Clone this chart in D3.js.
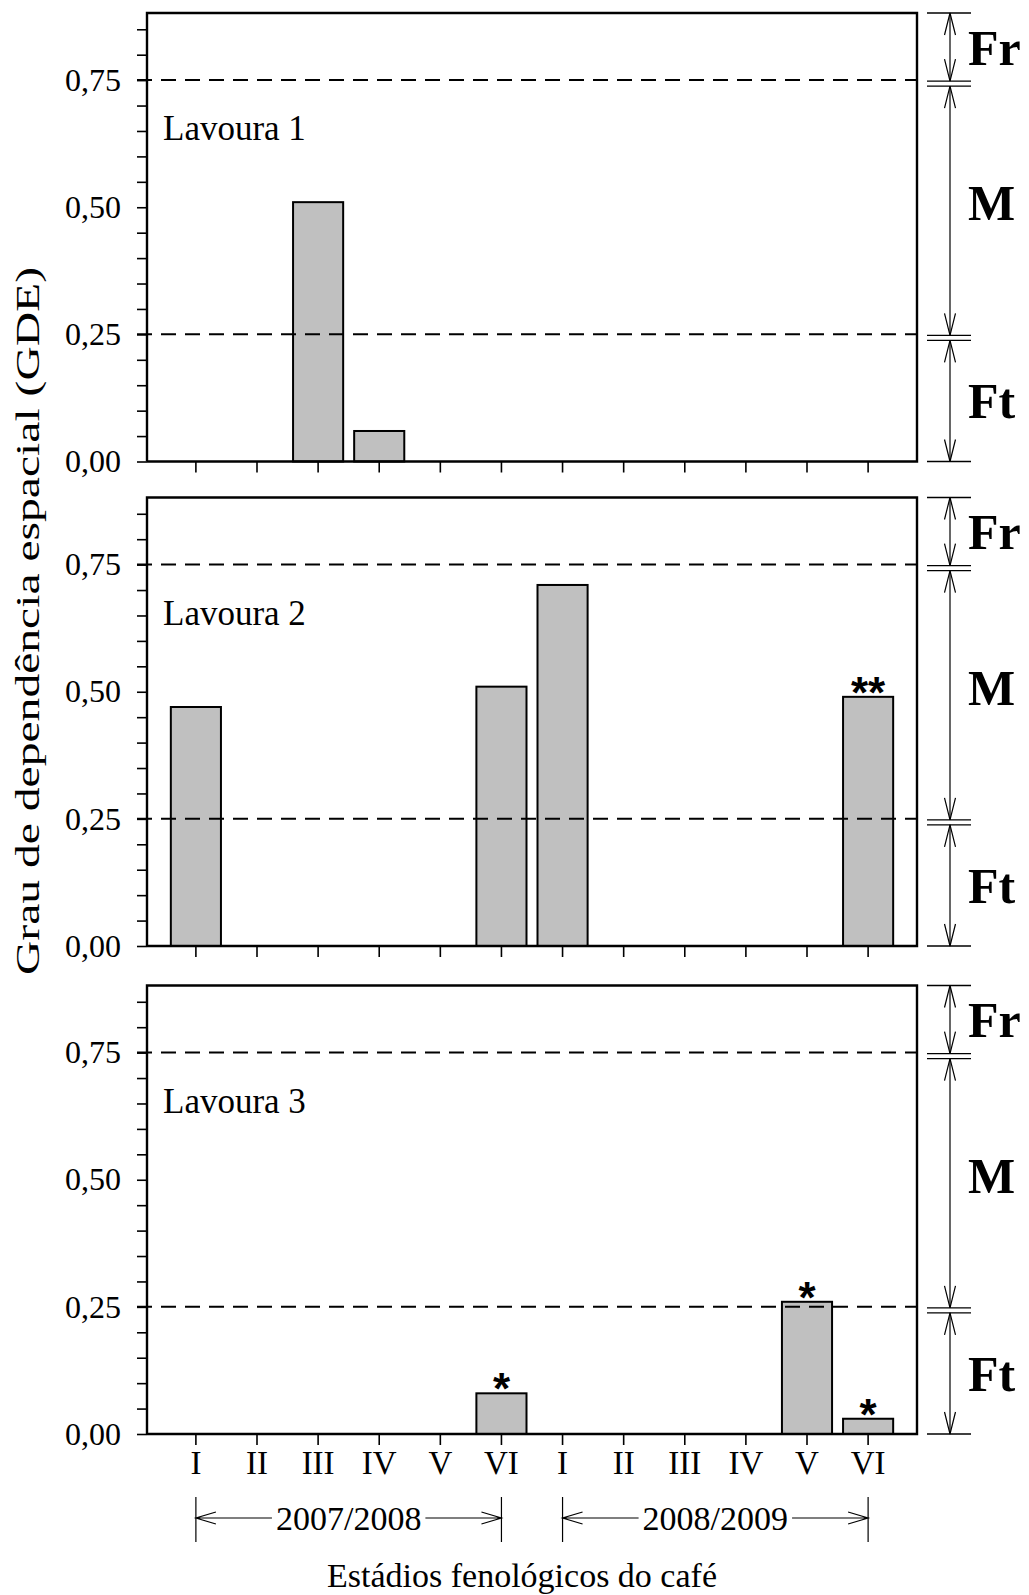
<html>
<head>
<meta charset="utf-8">
<style>
  body { margin: 0; background: white }
  svg { display: block; font-family: "Liberation Serif", "Times New Roman", serif; }
</style>
</head>
<body>
<script src="https://d3js.org/d3.v7.min.js"></script>
<script>

// estadios fenologicos (duas safras)
var categories = ["I", "II", "III", "IV", "V", "VI", "I", "II", "III", "IV", "V", "VI"];
var seasons = ["2007/2008", "2008/2009"];
var seasonSpan = [[0, 5], [6, 11]];

// GDE por lavoura
var lavoura1 = [0, 0, 0.51, 0.06, 0, 0, 0, 0, 0, 0, 0, 0];
var lavoura2 = [0.47, 0, 0, 0, 0, 0.51, 0.71, 0, 0, 0, 0, 0.49];
var lavoura3 = [0, 0, 0, 0, 0, 0.08, 0, 0, 0, 0, 0.26, 0.03];
var marks1 = ["", "", "", "", "", "", "", "", "", "", "", ""];
var marks2 = ["", "", "", "", "", "", "", "", "", "", "", "**"];
var marks3 = ["", "", "", "", "", "*", "", "", "", "", "*", "*"];
var panelNames = ["Lavoura 1", "Lavoura 2", "Lavoura 3"];

// eixo y
var yMax = 0.882;
var yLabels = [0, 0.25, 0.5, 0.75];
var yMinor = d3.range(0, 0.86, 0.05);

// classes de dependencia: forte, moderada, fraca
var zoneNames = ["Ft", "M", "Fr"];
var zoneBreaks = [0, 0.25, 0.75, yMax];

var panels = [
  { name: panelNames[0], values: lavoura1, marks: marks1 },
  { name: panelNames[1], values: lavoura2, marks: marks2 },
  { name: panelNames[2], values: lavoura3, marks: marks3 }
];

var width = 1029, height = 1595;
var left = 147, right = 917;
var panelTops = [13, 497.5, 985.5], panelH = 448.5;

var pt = d3.formatLocale({ decimal: ",", thousands: ".", grouping: [3], currency: ["", ""] });
var fmt = pt.format(".2f");

var svg = d3.select("body").append("svg")
  .attr("width", width)
  .attr("height", height);

var x = d3.scaleBand()
  .domain(d3.range(categories.length))
  .range([left, right])
  .paddingInner(0.18)
  .paddingOuter(0.39);

function cx(i) { return x(i) + x.bandwidth() / 2; }

panels.forEach(function(p, k) {
  var top = panelTops[k], bottom = top + panelH;
  var y = d3.scaleLinear().domain([0, yMax]).range([bottom, top]);
  var g = svg.append("g");
  var bars = p.values.map(function(v, i) { return { i: i, v: v }; })
    .filter(function(d) { return d.v > 0; });

  // barras
  g.selectAll("rect.bar").data(bars)
    .enter().append("rect")
      .attr("class", "bar")
      .attr("x", function(d) { return x(d.i); })
      .attr("y", function(d) { return y(d.v); })
      .attr("width", x.bandwidth())
      .attr("height", function(d) { return y(0) - y(d.v); })
      .attr("fill", "#c0c0c0")
      .attr("stroke", "black")
      .attr("stroke-width", 2);

  // asteriscos
  g.selectAll("text.mark").data(bars.filter(function(d) { return p.marks[d.i]; }))
    .enter().append("text")
      .attr("class", "mark")
      .attr("x", function(d) { return cx(d.i); })
      .attr("y", function(d) { return y(d.v) + 11; })
      .attr("text-anchor", "middle")
      .style("font-family", "'Liberation Sans', Arial, sans-serif")
      .style("font-weight", "bold")
      .style("font-size", "44px")
      .text(function(d) { return p.marks[d.i]; });

  // linhas tracejadas 0,25 e 0,75
  g.selectAll("line.lim").data([0.25, 0.75])
    .enter().append("line")
      .attr("x1", left - 10).attr("x2", right)
      .attr("y1", function(d) { return y(d); })
      .attr("y2", function(d) { return y(d); })
      .attr("stroke", "black")
      .attr("stroke-width", 2)
      .attr("stroke-dasharray", "15,9");

  // caixa
  g.append("path")
    .attr("d", "M" + left + "," + bottom + "V" + top + "H" + right + "V" + bottom + "H" + left)
    .attr("fill", "none")
    .attr("stroke", "black")
    .attr("stroke-width", 2.4);

  // eixo y
  var yAxis = d3.axisLeft(y)
    .tickValues(yMinor)
    .tickSize(10)
    .tickPadding(16)
    .tickFormat(function(d) {
      return yLabels.some(function(v) { return Math.abs(v - d) < 1e-6; }) ? fmt(d) : "";
    });
  var ya = g.append("g").attr("transform", "translate(" + left + ",0)").call(yAxis);
  ya.select(".domain").remove();
  ya.selectAll("line").attr("stroke-width", 1.6);
  ya.selectAll("text")
    .style("font-family", "'Liberation Serif', serif")
    .style("font-size", "32px")
    .attr("fill", "black");

  // eixo x
  var xAxis = d3.axisBottom(x)
    .tickSize(11)
    .tickPadding(6)
    .tickFormat(function(i) { return k === 2 ? categories[i] : ""; });
  var xa = g.append("g").attr("transform", "translate(0," + bottom + ")").call(xAxis);
  xa.select(".domain").remove();
  xa.selectAll("line").attr("stroke-width", 1.6);
  xa.selectAll("text")
    .style("font-family", "'Liberation Serif', serif")
    .style("font-size", "33px")
    .attr("fill", "black");

  // nome da lavoura
  g.append("text")
    .attr("x", 163)
    .attr("y", top + 127)
    .style("font-size", "35px")
    .text(p.name);

  // classes a direita
  var ax = 950, hx1 = 927, hx2 = 971;
  var hl = [top, bottom];
  zoneBreaks.slice(1, -1).forEach(function(b) { hl.push(y(b) + 1, y(b) + 6); });
  g.selectAll("line.h").data(hl).enter().append("line")
    .attr("x1", hx1).attr("x2", hx2)
    .attr("y1", function(d) { return d; }).attr("y2", function(d) { return d; })
    .attr("stroke", "black").attr("stroke-width", 1.4);

  zoneNames.forEach(function(name, z) {
    var lo = zoneBreaks[z], hi = zoneBreaks[z + 1];
    var yb = z === 0 ? bottom : y(lo) + 1;
    var yt = z === zoneNames.length - 1 ? top : y(hi) + 6;
    g.append("line")
      .attr("x1", ax).attr("x2", ax).attr("y1", yt).attr("y2", yb)
      .attr("stroke", "black").attr("stroke-width", 1.2);
    g.append("path")
      .attr("d", "M" + (ax - 5.5) + "," + (yt + 22) + "L" + ax + "," + yt + "L" + (ax + 5.5) + "," + (yt + 22) +
                 "M" + (ax - 5.5) + "," + (yb - 22) + "L" + ax + "," + yb + "L" + (ax + 5.5) + "," + (yb - 22))
      .attr("fill", "none").attr("stroke", "black").attr("stroke-width", 1.2);
    g.append("text")
      .attr("x", 968)
      .attr("y", (yt + yb) / 2 - (z === 1 ? 8 : 0))
      .attr("dy", "0.35em")
      .style("font-size", "50px")
      .style("font-weight", "bold")
      .text(name);
  });
});

// safras
var yr = 1518;
seasons.forEach(function(s, j) {
  var x1 = cx(seasonSpan[j][0]), x2 = cx(seasonSpan[j][1]);
  var g = svg.append("g");
  g.selectAll("line.v").data([x1, x2]).enter().append("line")
    .attr("x1", function(d) { return d; }).attr("x2", function(d) { return d; })
    .attr("y1", yr - 21).attr("y2", yr + 24)
    .attr("stroke", "black").attr("stroke-width", 1.2);
  var t = g.append("text")
    .attr("x", (x1 + x2) / 2)
    .attr("y", yr + 12)
    .attr("text-anchor", "middle")
    .style("font-size", "34px")
    .text(s);
  var w = t.node().getComputedTextLength();
  var a = (x1 + x2) / 2 - w / 2 - 4, b = (x1 + x2) / 2 + w / 2 + 4;
  g.append("path")
    .attr("d", "M" + x1 + "," + yr + "H" + a + "M" + b + "," + yr + "H" + x2 +
               "M" + (x1 + 20) + "," + (yr - 6) + "L" + x1 + "," + yr + "L" + (x1 + 20) + "," + (yr + 6) +
               "M" + (x2 - 20) + "," + (yr - 6) + "L" + x2 + "," + yr + "L" + (x2 - 20) + "," + (yr + 6))
    .attr("fill", "none").attr("stroke", "black").attr("stroke-width", 1.2);
});

// titulos
svg.append("text")
  .attr("x", 522)
  .attr("y", 1587)
  .attr("text-anchor", "middle")
  .style("font-size", "34px")
  .text("Estádios fenológicos do café");

svg.append("text")
  .attr("transform", "translate(39,621) rotate(-90)")
  .attr("text-anchor", "middle")
  .attr("textLength", 708)
  .attr("lengthAdjust", "spacingAndGlyphs")
  .style("font-size", "34px")
  .text("Grau de dependência espacial (GDE)");

</script>
</body>
</html>
